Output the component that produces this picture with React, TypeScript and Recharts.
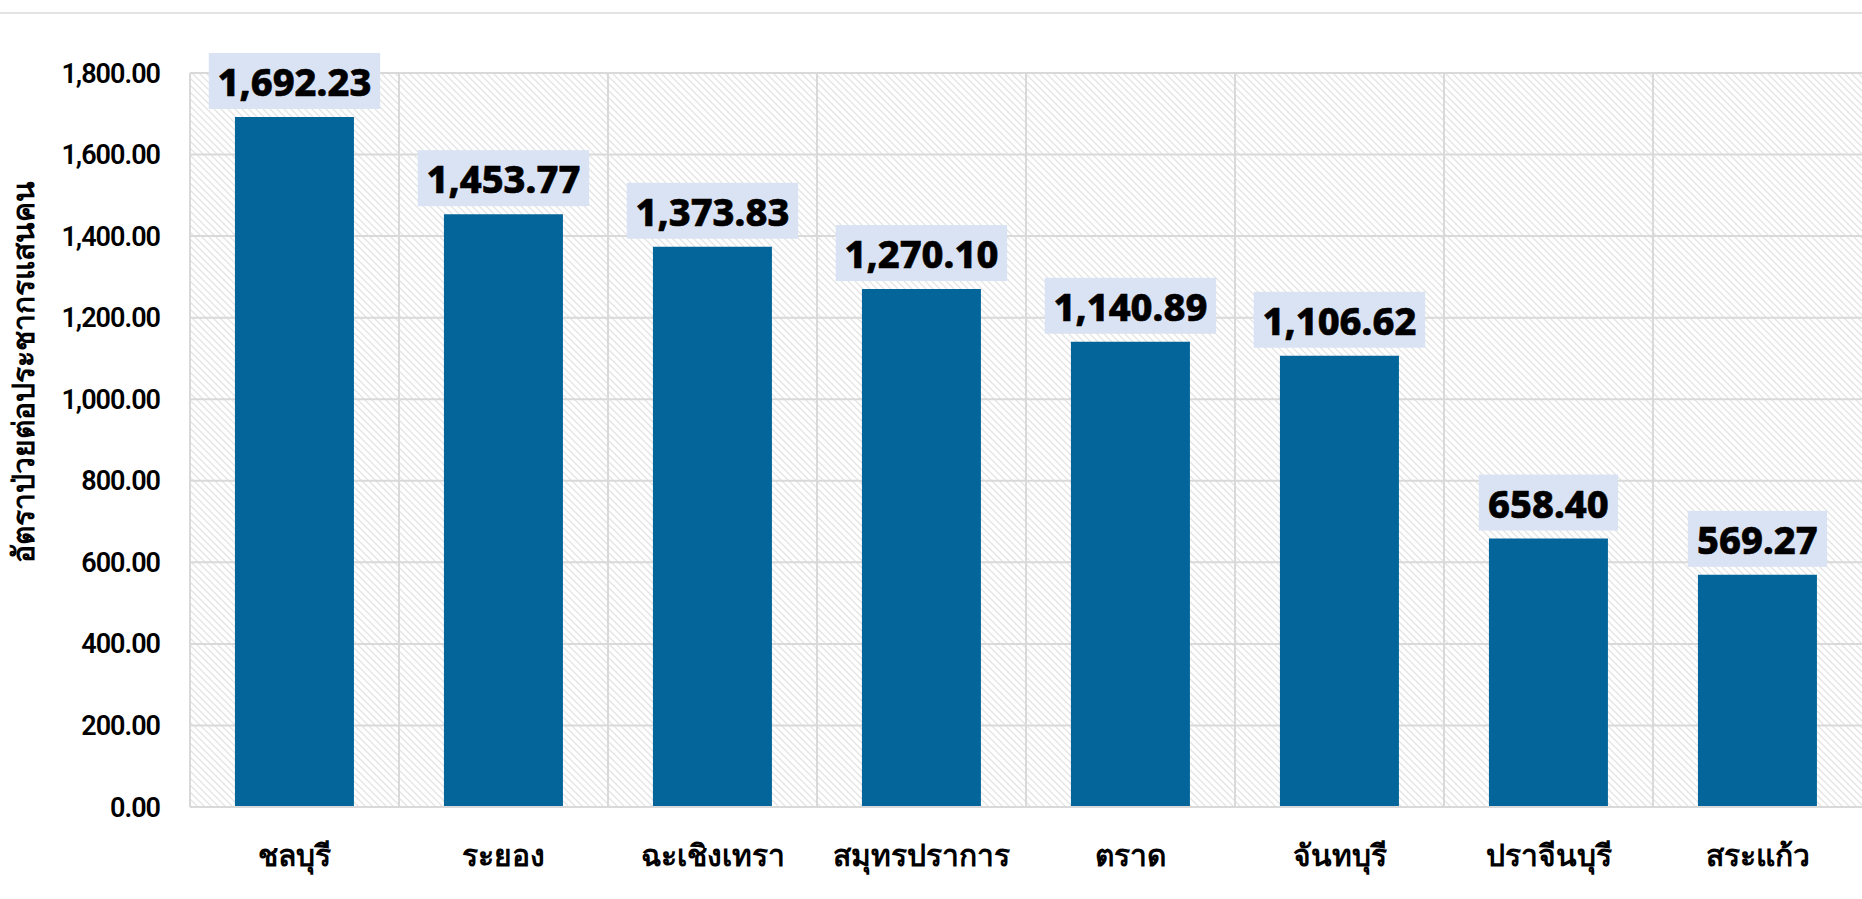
import { BarChart, Bar, XAxis, YAxis, CartesianGrid, LabelList } from "recharts";

const provinces = [
    "ชลบุรี",
    "ระยอง",
    "ฉะเชิงเทรา",
    "สมุทรปราการ",
    "ตราด",
    "จันทบุรี",
    "ปราจีนบุรี",
    "สระแก้ว",
];
const rates = [1692.23, 1453.77, 1373.83, 1270.1, 1140.89, 1106.62, 658.4, 569.27];
const yTicks = [0, 200, 400, 600, 800, 1000, 1200, 1400, 1600, 1800];
const yTitle = "อัตราป่วยต่อประชากรแสนคน";

const fmt = (v: number) =>
    v.toLocaleString("en-US", { minimumFractionDigits: 2, maximumFractionDigits: 2 });

const chartData = provinces.map((name, i) => ({ name, rate: rates[i] }));

const ValueBox = (props: any) => {
    const { x, y, width, value } = props;
    const text = fmt(value);
    const digits = text.replace(/[^0-9]/g, "").length;
    const punct = text.length - digits;
    const w = digits * 21.8 + punct * 10.3 + 20;
    const cx = x + width / 2;
    const bottom = y - 8;
    return (
        <g>
            <rect x={cx - w / 2} y={bottom - 56} width={w} height={56} fill="#dae3f3" />
            <text
                x={cx}
                y={bottom - 13}
                textAnchor="middle"
                fontFamily="'Noto Sans', sans-serif"
                fontWeight={800}
                fontSize={38}
                fill="#000"
                stroke="#000"
                strokeWidth={0.6}
            >
                {text}
            </text>
        </g>
    );
};

const XTick = (props: any) => {
    const { x, y, payload } = props;
    return (
        <text
            x={x}
            y={y + 47}
            textAnchor="middle"
            dominantBaseline="central"
            fontSize={30}
            fontWeight={700}
            fill="#000"
        >
            {payload.value}
        </text>
    );
};

const App = () => {
    return (
        <div
            style={{
                position: "absolute",
                left: 0,
                top: 0,
                width: 1862,
                height: 899,
                background: "#fff",
                fontFamily: "'Noto Sans', Roboto, sans-serif",
            }}
        >
            <div
                style={{
                    position: "absolute",
                    left: 0,
                    top: 12,
                    width: 1862,
                    height: 2,
                    background: "#e3e3e3",
                }}
            />
            <BarChart
                width={1862}
                height={899}
                data={chartData}
                margin={{ top: 73, right: 0, left: 0, bottom: 32 }}
                barCategoryGap="21.5%"
            >
                <defs>
                    <pattern id="hatch" width="7" height="7" patternUnits="userSpaceOnUse">
                        <rect width="7" height="7" fill="#ffffff" />
                        <path d="M-1,-1 L8,8 M-1,6 L1,8 M6,-1 L8,1" stroke="#e4e4e4" strokeWidth={1.3} />
                    </pattern>
                </defs>
                <CartesianGrid
                    fill="url(#hatch)"
                    stroke="#d9d9d9"
                    strokeWidth={2}
                    verticalCoordinatesGenerator={({ offset }: any) =>
                        provinces.map((_, i) => offset.left + (i * offset.width) / provinces.length)
                    }
                />
                <XAxis
                    dataKey="name"
                    axisLine={{ stroke: "#d9d9d9", strokeWidth: 2 }}
                    tickLine={false}
                    tickSize={0}
                    tickMargin={0}
                    height={60}
                    interval={0}
                    tick={<XTick />}
                />
                <YAxis
                    width={190}
                    domain={[0, 1800]}
                    ticks={yTicks}
                    axisLine={false}
                    tickLine={false}
                    tickSize={0}
                    tickMargin={30}
                    tickFormatter={fmt}
                    tick={{
                        fill: "#000",
                        fontSize: 27,
                        fontWeight: 600,
                        fontFamily: "Roboto, sans-serif",
                        letterSpacing: -1,
                    }}
                    label={() => (
                        <text
                            x={22}
                            y={372}
                            transform="rotate(-90 22 372)"
                            textAnchor="middle"
                            dominantBaseline="central"
                            fontSize={30}
                            fontWeight={700}
                            fill="#000"
                        >
                            {yTitle}
                        </text>
                    )}
                />
                <Bar dataKey="rate" fill="#036599" isAnimationActive={false}>
                    <LabelList dataKey="rate" content={<ValueBox />} />
                </Bar>
            </BarChart>
        </div>
    );
};

export default App;
